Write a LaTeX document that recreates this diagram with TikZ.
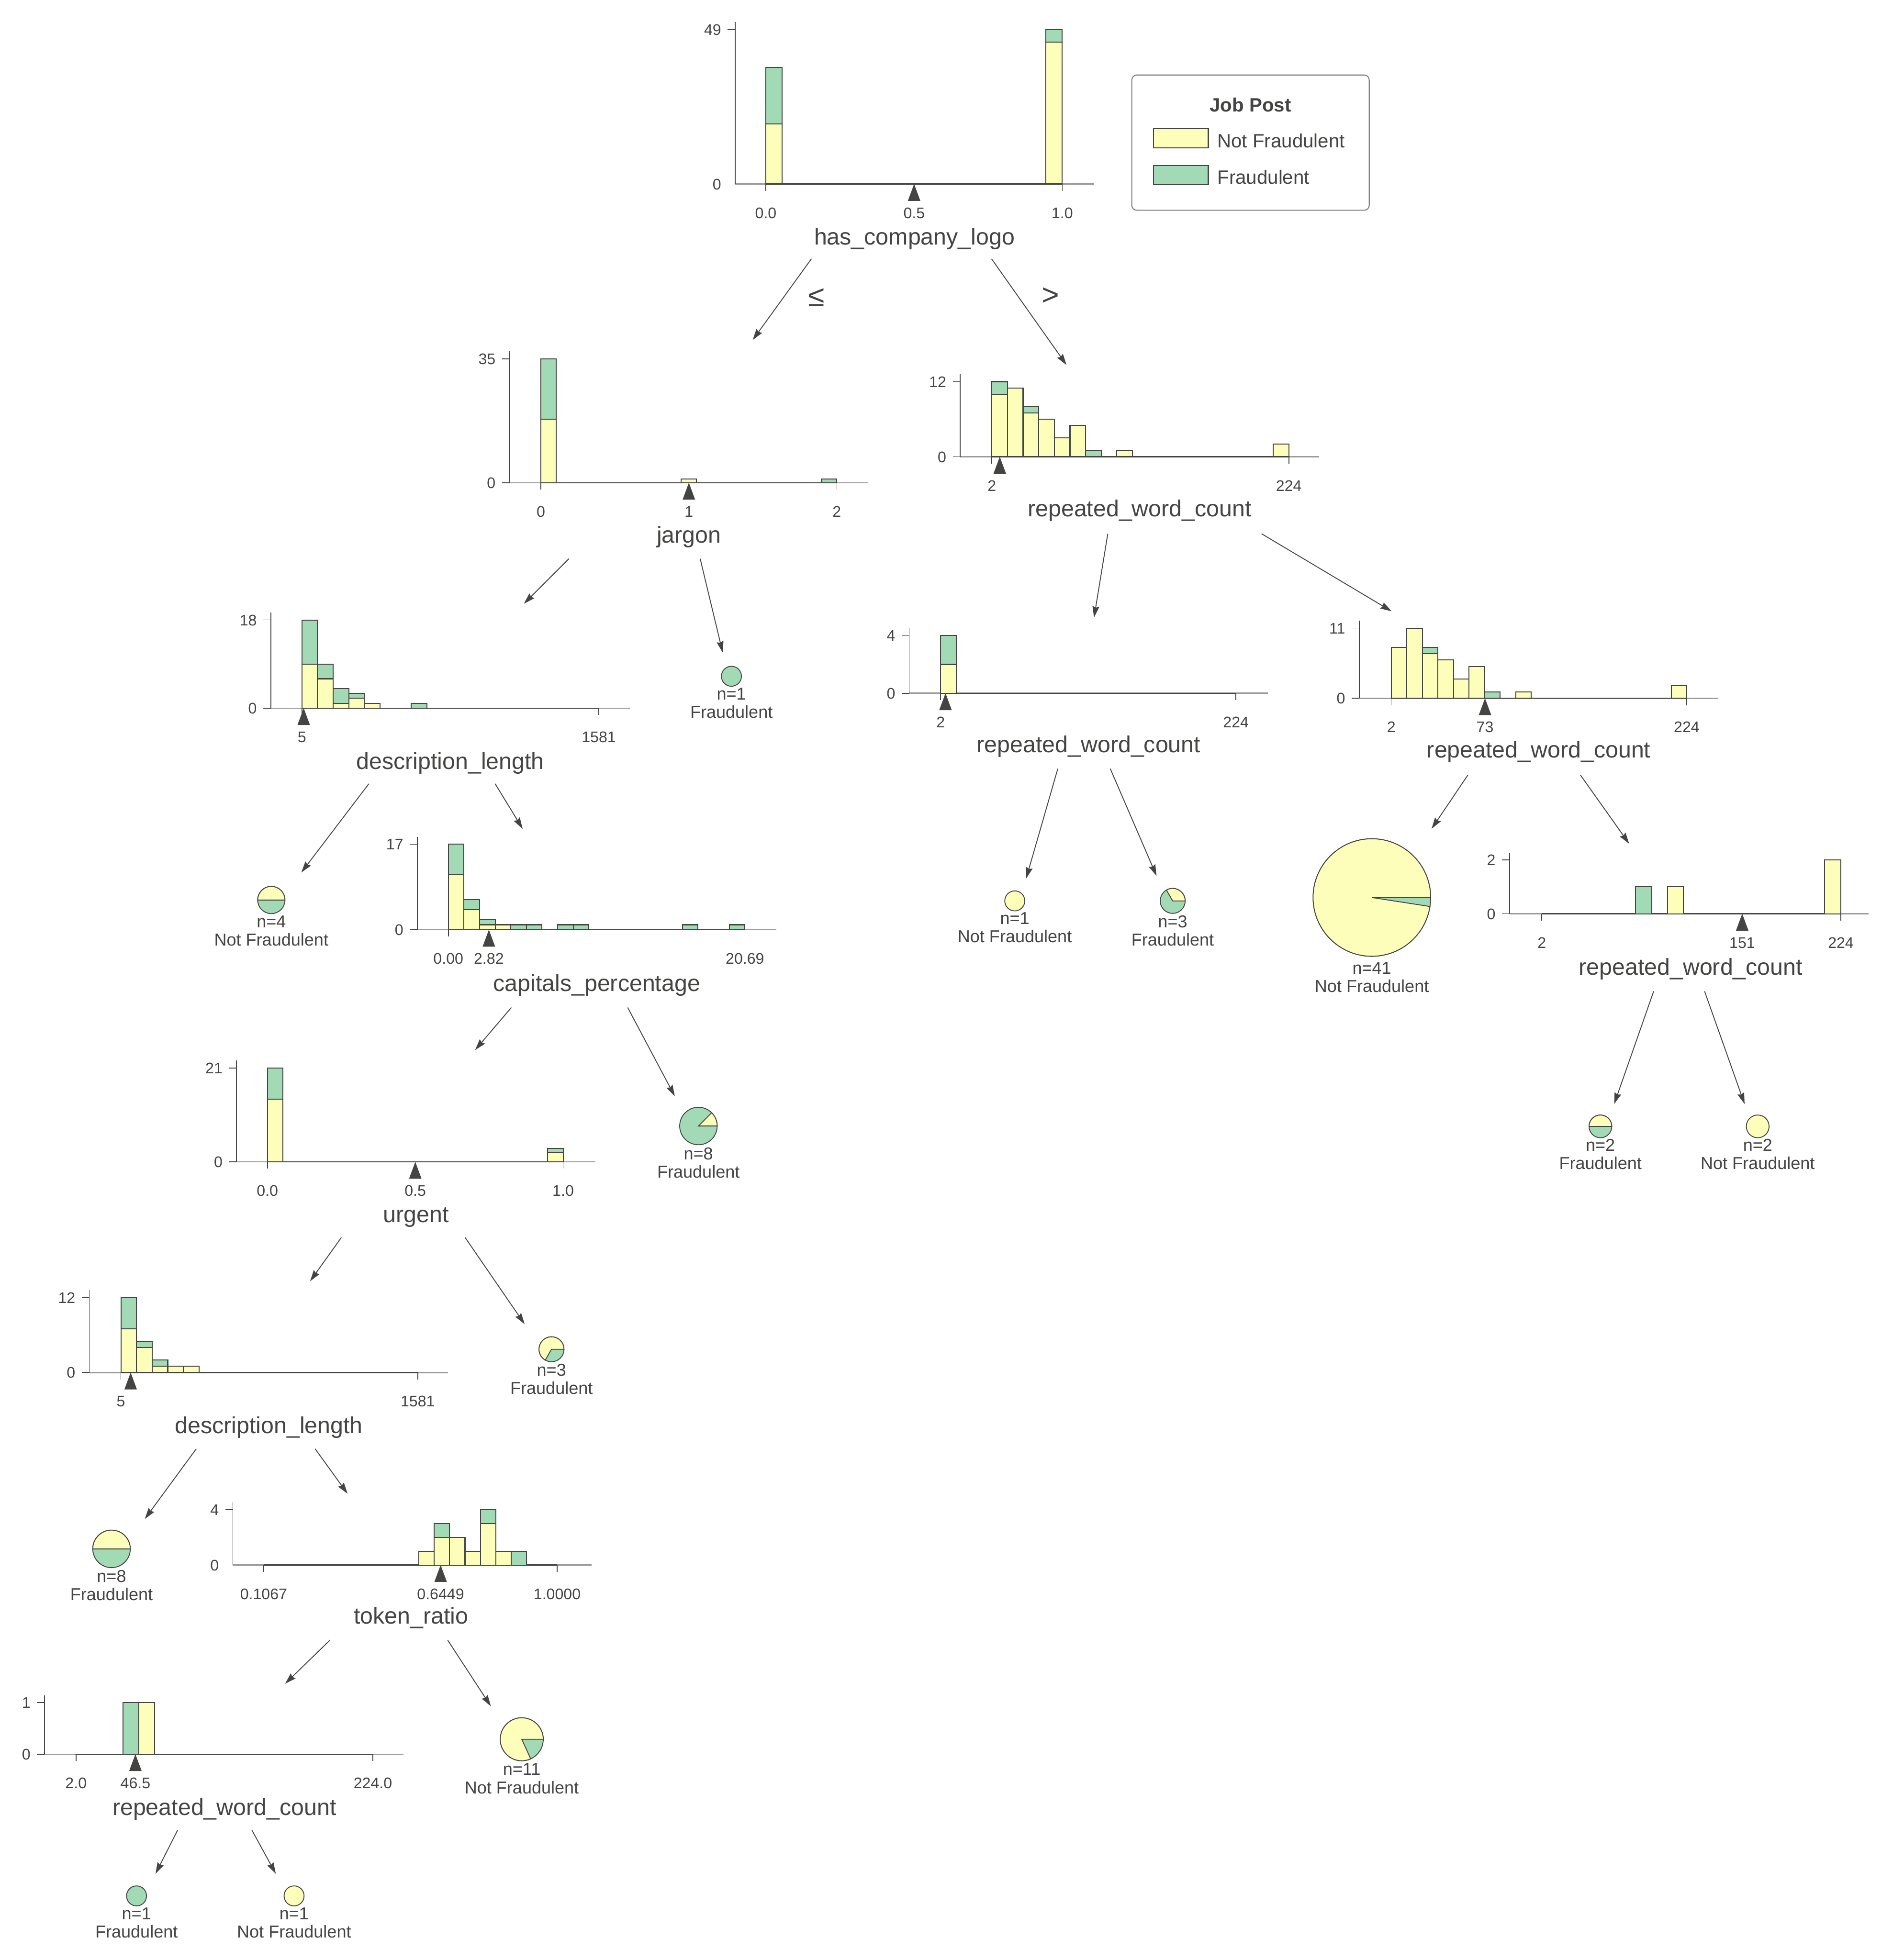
\documentclass[tikz,border=0pt]{standalone}
\usepackage{fontspec}
\setmainfont{Liberation Sans}
\usetikzlibrary{arrows.meta}
\definecolor{nofraud}{HTML}{FEFEBB}
\definecolor{fraud}{HTML}{A1DAB4}
\definecolor{edgec}{HTML}{444443}
\definecolor{axisgray}{HTML}{9A9A9A}
\tikzstyle{histbar} = [draw=edgec, line width=0.8pt]
\tikzstyle{axisline} = [draw=axisgray, line width=1pt]
\tikzstyle{axisdark} = [draw=edgec, line width=0.9pt]
\tikzstyle{tickline} = [draw=edgec, line width=0.6pt]
\tikzstyle{splitmark} = [fill=edgec]
\tikzstyle{ticktext} = [text=edgec, inner sep=0pt, font=\fontsize{12.3}{14}\selectfont, text height=8.9pt, text depth=0pt]
\tikzstyle{featlabel} = [text=edgec, inner sep=0pt, font=\fontsize{18.5}{22}\selectfont, text height=13.5pt, text depth=4pt]
\tikzstyle{leaftext} = [text=edgec, inner sep=0pt, align=center, font=\fontsize{13.8}{14.6}\selectfont]
\tikzstyle{legendtext} = [text=edgec, inner sep=0pt, anchor=west, font=\fontsize{15.4}{18}\selectfont]
\tikzstyle{edgelabel} = [text=edgec, inner sep=0pt, font=\fontsize{24}{28}\selectfont]
\tikzstyle{arrow} = [draw=edgec, line width=0.7pt, -{Stealth[length=9pt, width=5.5pt, inset=1pt]}]
% histogram helpers (1 unit = 1pt, y grows downwards)
\newcommand{\sethist}[2]{\def\hbin{#1}\def\hcnt{#2}}
\newcommand{\histframe}[6]{%
  \draw[axisline] (#1,#2) -- ({#1+287},#2);
  \draw[axisdark] (#5,#2) -- (#6,#2);
  \draw[tickline] (#1,#2) -- (#1,{#3-6});
  \draw[tickline] ({#1-6},#3) -- (#1,#3) ({#1-6},#2) -- (#1,#2);
  \draw[tickline] (#5,#2) -- ++(0,5.5) (#6,#2) -- ++(0,5.5);
  \node[ticktext, anchor=east] at ({#1-11},#3) {#4};
  \node[ticktext, anchor=east] at ({#1-11},#2) {0};
  \def\hzero{#2}}
\newcommand{\stackbar}[3]{%
  \draw[histbar, fill=nofraud] (#1,\hzero) rectangle ({#1+\hbin},{\hzero-\hcnt*#2});
  \draw[histbar, fill=fraud] (#1,{\hzero-\hcnt*#2}) rectangle ({#1+\hbin},{\hzero-\hcnt*(#2+#3)});}
\newcommand{\splitat}[1]{\fill[splitmark] (#1,\hzero) -- ++(-5,13.5) -- ++(10,0) -- cycle;}
\newcommand{\ticklab}[2]{\node[ticktext] at (#1,{\hzero+23}) {#2};}
\newcommand{\leafdisk}[4]{\filldraw[fill=#4, draw=edgec, line width=0.7pt] (#1,#2) circle[radius=#3pt];}
\newcommand{\leafpie}[4]{%
  \filldraw[fill=fraud, draw=edgec, line width=0.7pt] (#1,#2) circle[radius=#3pt];
  \filldraw[fill=nofraud, draw=edgec, line width=0.7pt] (#1,#2) -- ++(0:#3pt) arc[start angle=0, end angle=#4, radius=#3pt] -- cycle;}

\begin{document}
\begin{tikzpicture}[x=1pt, y=-1pt]
    \fill[white] (0,0) rectangle (1514,1568);
    \useasboundingbox (0,0) rectangle (1514,1568);

    % Legend
    \draw[draw=gray, line width=0.8pt, rounded corners=4pt] (905.2,60) rectangle (1095.1,168.2);
    \node[text=edgec, font=\fontsize{15.4}{18}\selectfont\bfseries] (legendTitle) at (1000.1,83.8) {Job Post};
    \draw[histbar, fill=nofraud] (922.4,102.9) rectangle (966.4,118.3);
    \node[legendtext] (legendNo) at (973.5,112.5) {Not Fraudulent};
    \draw[histbar, fill=fraud] (922.4,132.3) rectangle (966.4,147.8);
    \node[legendtext] (legendYes) at (973.5,141.5) {Fraudulent};

    % has_company_logo
    \sethist{13.17}{2.520}
    \histframe{588}{147.2}{23.7}{49}{612.5}{849.6}
    \stackbar{612.5}{19}{18}
    \stackbar{836.4}{45}{4}
    \splitat{731.1}
    \ticklab{612.5}{0.0} \ticklab{731.1}{0.5} \ticklab{849.6}{1.0}
    \node[featlabel] (logo) at (731.4,191) {has\_company\_logo};

    % jargon
    \sethist{12.2}{2.834}
    \histframe{407.5}{386.2}{287.0}{35}{432.6}{669.3}
    \stackbar{432.6}{18}{17}
    \stackbar{544.85}{1}{0}
    \stackbar{657.1}{0}{1}
    \splitat{550.95}
    \ticklab{432.6}{0} \ticklab{550.95}{1} \ticklab{669.3}{2}
    \node[featlabel] (jargon) at (551,429.5) {jargon};

    % repeated_word_count (logo > 0.5)
    \sethist{12.5}{5.01}
    \histframe{768}{365.4}{305.3}{12}{793.25}{1030.8}
    \stackbar{793.25}{10}{2}
    \stackbar{805.75}{11}{0}
    \stackbar{818.25}{7}{1}
    \stackbar{830.75}{6}{0}
    \stackbar{843.25}{3}{0}
    \stackbar{855.75}{5}{0}
    \stackbar{868.25}{0}{1}
    \stackbar{893.25}{1}{0}
    \stackbar{1018.25}{2}{0}
    \splitat{799.6}
    \ticklab{793.25}{2} \ticklab{1030.8}{224}
    \node[featlabel] (wordsA) at (911.5,408.6) {repeated\_word\_count};

    % description_length
    \sethist{12.5}{3.917}
    \histframe{216.6}{566.5}{496.0}{18}{241.45}{478.9}
    \stackbar{241.45}{9}{9}
    \stackbar{253.95}{6}{3}
    \stackbar{266.45}{1}{3}
    \stackbar{278.95}{2}{1}
    \stackbar{291.45}{1}{0}
    \stackbar{328.95}{0}{1}
    \splitat{242.9}
    \ticklab{241.45}{5} \ticklab{478.9}{1581}
    \node[featlabel] (descA) at (360.1,610.7) {description\_length};

    % repeated_word_count (small)
    \sethist{12.6}{11.53}
    \histframe{727.2}{554.6}{508.5}{4}{752.3}{988.5}
    \stackbar{752.3}{2}{2}
    \splitat{756.2}
    \ticklab{752.3}{2} \ticklab{988.5}{224}
    \node[featlabel] (wordsB) at (870.7,597.1) {repeated\_word\_count};

    % repeated_word_count (wide)
    \sethist{12.44}{5.1}
    \histframe{1087.1}{558.6}{502.5}{11}{1112.7}{1349.0}
    \stackbar{1112.7}{8}{0}
    \stackbar{1125.14}{11}{0}
    \stackbar{1137.58}{7}{1}
    \stackbar{1150.02}{6}{0}
    \stackbar{1162.46}{3}{0}
    \stackbar{1174.9}{5}{0}
    \stackbar{1187.34}{0}{1}
    \stackbar{1212.22}{1}{0}
    \stackbar{1336.62}{2}{0}
    \splitat{1187.7}
    \ticklab{1112.7}{2} \ticklab{1187.7}{73} \ticklab{1349.0}{224}
    \node[featlabel] (wordsC) at (1230.6,601.3) {repeated\_word\_count};

    % capitals_percentage
    \sethist{12.48}{4.024}
    \histframe{333.8}{743.8}{675.4}{17}{358.6}{595.8}
    \stackbar{358.6}{11}{6}
    \stackbar{371.08}{4}{2}
    \stackbar{383.56}{1}{1}
    \stackbar{396.04}{1}{0}
    \stackbar{408.52}{0}{1}
    \stackbar{421.0}{0}{1}
    \stackbar{445.96}{0}{1}
    \stackbar{458.44}{0}{1}
    \stackbar{545.8}{0}{1}
    \stackbar{583.24}{0}{1}
    \splitat{391.0}
    \ticklab{358.6}{0.00} \ticklab{391.0}{2.82} \ticklab{595.8}{20.69}
    \node[featlabel] (caps) at (477.3,788.4) {capitals\_percentage};

    % urgent
    \sethist{12.45}{3.576}
    \histframe{189.2}{929.5}{854.4}{21}{213.9}{450.4}
    \stackbar{213.9}{14}{7}
    \stackbar{437.95}{2}{1}
    \splitat{332.15}
    \ticklab{213.9}{0.0} \ticklab{332.15}{0.5} \ticklab{450.4}{1.0}
    \node[featlabel] (urgent) at (332.7,973) {urgent};

    % description_length (second)
    \sethist{12.49}{5.0}
    \histframe{71.4}{1098.0}{1038.0}{12}{96.7}{334.1}
    \stackbar{96.7}{7}{5}
    \stackbar{109.19}{4}{1}
    \stackbar{121.68}{1}{1}
    \stackbar{134.17}{1}{0}
    \stackbar{146.66}{1}{0}
    \splitat{104.5}
    \ticklab{96.7}{5} \ticklab{334.1}{1581}
    \node[featlabel] (descB) at (215,1142) {description\_length};

    % token_ratio
    \sethist{12.33}{11.07}
    \histframe{186.2}{1252.0}{1207.7}{4}{210.9}{445.6}
    \stackbar{334.9}{1}{0}
    \stackbar{347.23}{2}{1}
    \stackbar{359.56}{2}{0}
    \stackbar{371.89}{1}{0}
    \stackbar{384.22}{3}{1}
    \stackbar{396.55}{1}{0}
    \stackbar{408.88}{0}{1}
    \splitat{352.4}
    \ticklab{210.9}{0.1067} \ticklab{352.4}{0.6449} \ticklab{445.6}{1.0000}
    \node[featlabel] (token) at (328.8,1294.3) {token\_ratio};

    % repeated_word_count (bottom)
    \sethist{12.6}{41.2}
    \histframe{35.6}{1403.3}{1362.1}{1}{60.8}{298.2}
    \stackbar{98.3}{0}{1}
    \stackbar{110.9}{1}{0}
    \splitat{108.3}
    \ticklab{60.8}{2.0} \ticklab{108.3}{46.5} \ticklab{298.2}{224.0}
    \node[featlabel] (wordsD) at (179.5,1447.5) {repeated\_word\_count};

    % repeated_word_count (right)
    \sethist{12.9}{21.5}
    \histframe{1207.3}{731.0}{688.0}{2}{1233.1}{1472.3}
    \stackbar{1308.2}{0}{1}
    \stackbar{1333.6}{1}{0}
    \stackbar{1459.4}{2}{0}
    \splitat{1393.4}
    \ticklab{1233.1}{2} \ticklab{1393.4}{151} \ticklab{1472.3}{224}
    \node[featlabel] (wordsE) at (1352.2,775.2) {repeated\_word\_count};

    % Leaves
    \leafdisk{585}{541}{8}{fraud}
    \node[leaftext] (leafJ) at (585,562.5) {n=1\\Fraudulent};
    \leafpie{217}{720}{10.9}{180}
    \node[leaftext] (leafDA) at (217,744.75) {n=4\\Not Fraudulent};
    \leafdisk{811.6}{720.7}{8}{nofraud}
    \node[leaftext] (leafBL) at (811.6,742.15) {n=1\\Not Fraudulent};
    \leafpie{937.9}{720.7}{10}{120}
    \node[leaftext] (leafBR) at (937.9,744.55) {n=3\\Fraudulent};
    \leafpie{1097.2}{718}{47}{351.2}
    \node[leaftext] (leafCL) at (1097.2,781.85) {n=41\\Not Fraudulent};
    \leafpie{558.6}{900.8}{15}{45}
    \node[leaftext] (leafCaps) at (558.6,930.2) {n=8\\Fraudulent};
    \leafpie{441.1}{1079.4}{10}{240}
    \node[leaftext] (leafUrg) at (441.1,1103.2) {n=3\\Fraudulent};
    \leafpie{89.2}{1239.1}{15}{180}
    \node[leaftext] (leafDB) at (89.2,1268.3) {n=8\\Fraudulent};
    \leafpie{417.3}{1391.4}{17.2}{294.5}
    \node[leaftext] (leafTok) at (417.3,1422.8) {n=11\\Not Fraudulent};
    \leafdisk{109.2}{1516.7}{8}{fraud}
    \node[leaftext] (leafDL) at (109.2,1538.3) {n=1\\Fraudulent};
    \leafdisk{235.2}{1516.7}{8}{nofraud}
    \node[leaftext] (leafDR) at (235.2,1538.3) {n=1\\Not Fraudulent};
    \leafpie{1280}{901.1}{9.1}{180}
    \node[leaftext] (leafEL) at (1280,923.35) {n=2\\Fraudulent};
    \leafdisk{1405.8}{901.1}{9.1}{nofraud}
    \node[leaftext] (leafER) at (1405.8,923.35) {n=2\\Not Fraudulent};

    % Arrow ends
    \coordinate (logoL) at (649,207);
    \coordinate (logoR) at (793,207);
    \coordinate (jargonIn) at (602,272);
    \coordinate (wordsAIn) at (853,292);
    \coordinate (jargonL) at (455,447);
    \coordinate (jargonR) at (560,447);
    \coordinate (descAIn) at (419,483);
    \coordinate (leafJIn) at (578,522);
    \coordinate (wordsAL) at (886,427);
    \coordinate (wordsAR) at (1009,427);
    \coordinate (wordsBIn) at (875,494);
    \coordinate (wordsCIn) at (1113,489);
    \coordinate (descAL) at (295,627);
    \coordinate (descAR) at (396,627);
    \coordinate (leafDAIn) at (241,698);
    \coordinate (capsIn) at (418,663);
    \coordinate (wordsBL) at (846,615);
    \coordinate (wordsBR) at (888,615);
    \coordinate (leafBLIn) at (820.7,702.8);
    \coordinate (leafBRIn) at (925,700.7);
    \coordinate (wordsCL) at (1174,620);
    \coordinate (wordsCR) at (1264,620);
    \coordinate (leafCLIn) at (1145,663);
    \coordinate (wordsEIn) at (1303,675);
    \coordinate (capsL) at (409,806);
    \coordinate (capsR) at (502,806);
    \coordinate (urgentIn) at (380,840);
    \coordinate (leafCapsIn) at (539.7,877);
    \coordinate (urgentL) at (273,990);
    \coordinate (urgentR) at (372,990);
    \coordinate (descBIn) at (248,1025);
    \coordinate (leafUrgIn) at (419.6,1059.3);
    \coordinate (descBL) at (157,1159);
    \coordinate (descBR) at (252,1159);
    \coordinate (leafDBIn) at (115.8,1215.2);
    \coordinate (tokenIn) at (278,1195);
    \coordinate (tokenL) at (264,1312);
    \coordinate (tokenR) at (358,1312);
    \coordinate (wordsDIn) at (228,1347);
    \coordinate (leafTokIn) at (392.6,1365);
    \coordinate (wordsDL) at (142,1464.2);
    \coordinate (wordsDR) at (201.5,1464.2);
    \coordinate (leafDLIn) at (124.4,1499);
    \coordinate (leafDRIn) at (220.6,1499);
    \coordinate (wordsEL) at (1322.6,793);
    \coordinate (wordsER) at (1363.3,793);
    \coordinate (leafELIn) at (1291,883.2);
    \coordinate (leafERIn) at (1395.3,883.2);

    % Arrows
    \draw [arrow] (logoL) -- (jargonIn);
    \draw [arrow] (logoR) -- (wordsAIn);
    \node[edgelabel] (leq) at (653,238) {≤};
    \node[edgelabel] (gt) at (840,237) {>};
    \draw [arrow] (jargonL) -- (descAIn);
    \draw [arrow] (jargonR) -- (leafJIn);
    \draw [arrow] (wordsAL) -- (wordsBIn);
    \draw [arrow] (wordsAR) -- (wordsCIn);
    \draw [arrow] (descAL) -- (leafDAIn);
    \draw [arrow] (descAR) -- (capsIn);
    \draw [arrow] (wordsBL) -- (leafBLIn);
    \draw [arrow] (wordsBR) -- (leafBRIn);
    \draw [arrow] (wordsCL) -- (leafCLIn);
    \draw [arrow] (wordsCR) -- (wordsEIn);
    \draw [arrow] (capsL) -- (urgentIn);
    \draw [arrow] (capsR) -- (leafCapsIn);
    \draw [arrow] (urgentL) -- (descBIn);
    \draw [arrow] (urgentR) -- (leafUrgIn);
    \draw [arrow] (descBL) -- (leafDBIn);
    \draw [arrow] (descBR) -- (tokenIn);
    \draw [arrow] (tokenL) -- (wordsDIn);
    \draw [arrow] (tokenR) -- (leafTokIn);
    \draw [arrow] (wordsDL) -- (leafDLIn);
    \draw [arrow] (wordsDR) -- (leafDRIn);
    \draw [arrow] (wordsEL) -- (leafELIn);
    \draw [arrow] (wordsER) -- (leafERIn);
\end{tikzpicture}
\end{document}
